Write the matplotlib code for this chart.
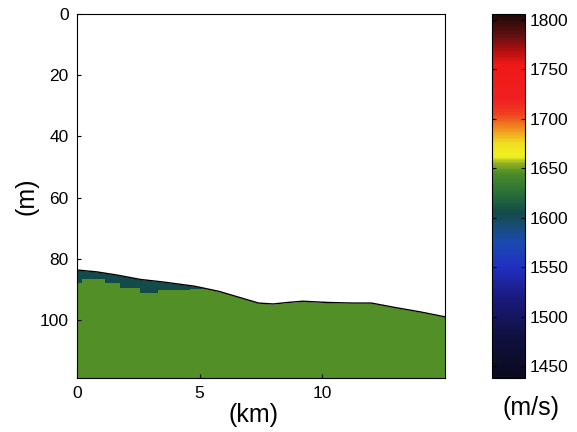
import matplotlib
matplotlib.use('Agg')
import matplotlib.pyplot as plt
from matplotlib.colors import LinearSegmentedColormap, Normalize
from matplotlib.cm import ScalarMappable

plt.rcParams['font.family'] = ['Liberation Sans', 'DejaVu Sans']

# seafloor depth (m) along the profile (km)
sea_x = [0, 0.8, 1.6, 2.6, 3.5, 4.8, 5.8, 6.6, 7.4, 8.0, 8.6, 9.2, 10.2, 11.2, 12.0, 13.0, 14.0, 15.0]
sea_z = [83.7, 84.3, 85.3, 86.8, 87.6, 89.0, 90.7, 92.6, 94.5, 94.8, 94.3, 93.9, 94.3, 94.5, 94.5, 96.0, 97.4, 99.0]

# bottom of the low-velocity layer just below the seafloor (step-wise)
low_x = [0, 0.19, 1.14, 1.76, 2.57, 3.32, 4.61, 5.56]
low_z = [88.0, 86.7, 88.0, 89.6, 91.1, 90.2, 89.8, 89.8]

v_sediment = 1645
v_low = 1605
v_min, v_max = 1438, 1806
cbar_ticks = [1450, 1500, 1550, 1600, 1650, 1700, 1750, 1800]

# custom colour scale (velocity, colour)
cmap_stops = [
    (1438, '#0a0a20'), (1480, '#101040'), (1520, '#1a1a80'), (1550, '#2030c0'),
    (1575, '#1a4ab0'), (1593, '#184c70'), (1605, '#114a4a'), (1625, '#2a7038'),
    (1645, '#4c8c28'), (1655, '#90b020'), (1662, '#f0f020'), (1675, '#f0e020'),
    (1690, '#f09020'), (1705, '#f04020'), (1720, '#f02020'), (1755, '#f01818'),
    (1770, '#b01010'), (1785, '#601010'), (1806, '#200808'),
]
cmap = LinearSegmentedColormap.from_list(
    'vel', [((v - v_min) / (v_max - v_min), c) for v, c in cmap_stops])
norm = Normalize(v_min, v_max)

fig = plt.figure(figsize=(5.77, 4.32), dpi=100)
ax = fig.add_axes([0.1334, 0.125, 0.6378, 0.8426])
cax = fig.add_axes([0.8527, 0.125, 0.0572, 0.8426])

depth_max = 119
ax.fill_between(sea_x, sea_z, depth_max, color=cmap(norm(v_sediment)), lw=0)
ax.fill_between(low_x, 80, low_z, step='post', color=cmap(norm(v_low)), lw=0)
ax.fill_between(sea_x, 0, sea_z, color='white', lw=0)
ax.plot(sea_x, sea_z, color='black', lw=1)

ax.set_xlim(0, 15)
ax.set_ylim(depth_max, 0)
ax.set_xticks([0, 5, 10])
ax.set_yticks([0, 20, 40, 60, 80, 100])
ax.tick_params(direction='in', length=3, labelsize=12.5, pad=6)
ax.set_xlabel('(km)', fontsize=18, labelpad=0)
ax.set_ylabel('(m)', fontsize=18, labelpad=1)
ax.xaxis.set_label_coords(0.48, -0.07)

sm = ScalarMappable(norm=norm, cmap=cmap)
cb = fig.colorbar(sm, cax=cax, ticks=cbar_ticks)
cb.outline.set_linewidth(0.8)
cax.tick_params(direction='in', length=3, labelsize=12.5, left=True, right=True)
fig.text(0.92, 0.04, '(m/s)', fontsize=18, ha='center')

fig.savefig('out.png', dpi=100)
